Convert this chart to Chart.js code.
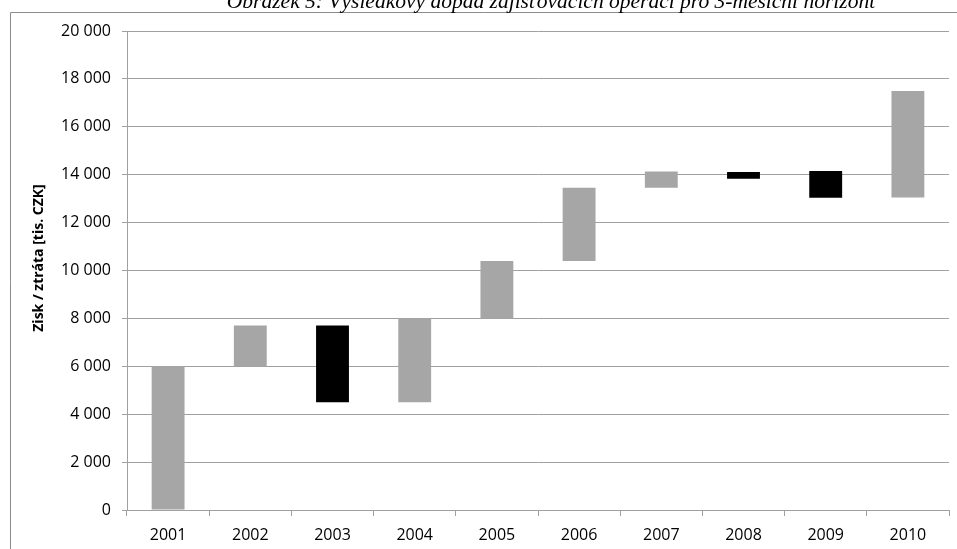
<!DOCTYPE html>
<html>
<head>
<meta charset="utf-8">
<script src="https://cdn.jsdelivr.net/npm/chart.js@4"></script>
<style>
  html, body { margin: 0; padding: 0; background: #fff; overflow: hidden; }
  #wrap { position: relative; width: 957px; height: 549px; }
</style>
</head>
<body>
<div id="wrap"><canvas id="pnl"></canvas></div>
<script>
// Waterfall of yearly hedging results: each bar floats from its start to its end value.
const years = ['2001', '2002', '2003', '2004', '2005', '2006', '2007', '2008', '2009', '2010'];
const startValues = [0, 6000, 7700, 4500, 8000, 10400, 13450, 14110, 14150, 13050];
const endValues = [6000, 7700, 4500, 8000, 10400, 13450, 14130, 13830, 13040, 17500];
const yTicks = [0, 2000, 4000, 6000, 8000, 10000, 12000, 14000, 16000, 18000, 20000];

const figureTitle = 'Obrázek 5: Výsledkový dopad zajišťovacích operací pro 3-měsíční horizont';
const yAxisTitle = 'Zisk / ztráta [tis. CZK]';
const axisFont = '"Open Sans", "DejaVu Sans", sans-serif';
const gridGray = '#a0a0a0';

const fmtThousands = v => String(v).replace(/\B(?=(\d{3})+(?!\d))/g, '\u00a0');

// Frame of the embedded chart object, the caption running off the top edge,
// and the y-axis title (drawn by hand so it sits mid-way in the label gutter).
const framePlugin = {
    id: 'frame',
    beforeDraw(chart) {
        const ctx = chart.ctx;
        ctx.save();
        ctx.fillStyle = '#fff';
        ctx.fillRect(0, 0, chart.width, chart.height);
        ctx.strokeStyle = '#8c8c8c';
        ctx.lineWidth = 1;
        ctx.beginPath();
        ctx.moveTo(10.5, chart.height + 5);
        ctx.lineTo(10.5, 12.5);
        ctx.lineTo(chart.width + 5, 12.5);
        ctx.stroke();
        ctx.fillStyle = '#000';
        ctx.font = 'italic 21.5px "Liberation Serif", "DejaVu Serif", serif';
        ctx.textAlign = 'center';
        ctx.textBaseline = 'alphabetic';
        ctx.fillText(figureTitle, 551, 8);
        ctx.restore();
    },
    afterDraw(chart) {
        const ctx = chart.ctx;
        ctx.save();
        ctx.translate(39, 258);
        ctx.rotate(-Math.PI / 2);
        ctx.fillStyle = '#000';
        ctx.font = 'bold 14px ' + axisFont;
        ctx.textAlign = 'center';
        ctx.textBaseline = 'middle';
        ctx.fillText(yAxisTitle, 0, 0);
        ctx.restore();
    }
};

new Chart(document.getElementById('pnl'), {
    type: 'bar',
    data: {
        labels: years,
        datasets: [{
            data: years.map((_, i) => [startValues[i], endValues[i]]),
            backgroundColor: years.map((_, i) => endValues[i] < startValues[i] ? '#000000' : '#a6a6a6'),
            borderWidth: 0,
            borderSkipped: false,
            barPercentage: 0.4,
            categoryPercentage: 1,
        }],
    },
    options: {
        responsive: true,
        maintainAspectRatio: false,
        animation: false,
        layout: { padding: { left: 0, top: 31, right: 8, bottom: 5 } },
        plugins: { legend: { display: false }, tooltip: { enabled: false } },
        scales: {
            x: {
                grid: { display: true, offset: true, drawOnChartArea: false, drawTicks: true, tickLength: 6, color: gridGray },
                border: { display: true, color: gridGray, width: 1 },
                ticks: { color: '#000', font: { family: axisFont, size: 16 }, padding: 10, maxRotation: 0 },
                afterFit(scale) { scale.height = 34; },
            },
            y: {
                min: 0,
                max: 20000,
                afterBuildTicks(scale) { scale.ticks = yTicks.map(v => ({ value: v })); },
                grid: { color: gridGray, lineWidth: 1, tickLength: 5 },
                border: { display: true, color: gridGray, width: 1 },
                ticks: {
                    color: '#000',
                    font: { family: axisFont, size: 16 },
                    padding: 11,
                    callback: v => fmtThousands(v),
                },
                afterFit(scale) { scale.width = 127; },
            },
        },
    },
    plugins: [framePlugin],
});
</script>
</body>
</html>
